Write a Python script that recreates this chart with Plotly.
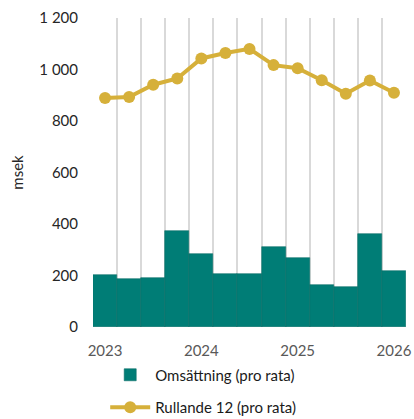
import plotly.graph_objects as go

quarters = ["2023 Q1","2023 Q2","2023 Q3","2023 Q4","2024 Q1","2024 Q2","2024 Q3","2024 Q4",
            "2025 Q1","2025 Q2","2025 Q3","2025 Q4","2026 Q1"]
omsattning = [203, 185, 192, 374, 282, 206, 206, 309, 267, 163, 155, 363, 219]
rullande = [889, 893, 941, 965, 1043, 1064, 1080, 1017, 1005, 958, 906, 957, 910]
year_labels = ["2023", "2024", "2025", "2026"]

idx = list(range(len(quarters)))
year_pos = [i for i, q in enumerate(quarters) if q.endswith("Q1")]

fig = go.Figure()
fig.add_trace(go.Bar(
    x=idx, y=omsattning, name="Omsättning (pro rata)", legendgroup="a",
    marker=dict(color="#007d76", line=dict(color="#0a6e68", width=0.6)),
    hovertext=quarters,
))
fig.add_trace(go.Scatter(
    x=idx, y=rullande, name="Rullande 12 (pro rata)", mode="lines+markers", legendgroup="b",
    line=dict(color="#d6b03a", width=4),
    marker=dict(color="#d6b03a", size=12),
    hovertext=quarters,
))

fig.update_layout(
    width=414, height=419,
    margin=dict(l=93, r=8, t=18, b=92, autoexpand=False),
    paper_bgcolor="white", plot_bgcolor="white",
    bargap=0,
    separators=", ",
    font=dict(family="Lato, 'Open Sans', sans-serif", size=15, color="#262626"),
    showlegend=True,
    legend=dict(orientation="v", x=0.039, xanchor="left", y=-0.102, yanchor="top",
                font=dict(size=15, color="#1a1a1a"), itemwidth=40, tracegroupgap=10,
                traceorder="grouped"),
    xaxis=dict(
        range=[-0.5, len(quarters) - 0.5],
        tickmode="array", tickvals=year_pos, ticktext=year_labels,
        tickfont=dict(color="#595959", size=15),
        showgrid=False, zeroline=False, showline=False, ticks="",
        ticklabelstandoff=13, ticklabeloverflow="allow", automargin=False,
        minor=dict(tickmode="linear", tick0=-0.5, dtick=1, showgrid=True,
                   gridcolor="#d9d9d9", gridwidth=1.5, ticks=""),
    ),
    yaxis=dict(
        range=[0, 1200], tickvals=[0, 200, 400, 600, 800, 1000, 1200],
        tickformat=",d", showgrid=False, zeroline=False, showline=False,
        title=dict(text="msek", font=dict(size=15, color="#262626"), standoff=12),
        ticklabelstandoff=14, automargin=False,
    ),
)

fig.write_html(
    "out.html",
    config={"displayModeBar": False},
    post_script="document.body.style.margin='0';document.body.style.overflow='hidden';",
)
